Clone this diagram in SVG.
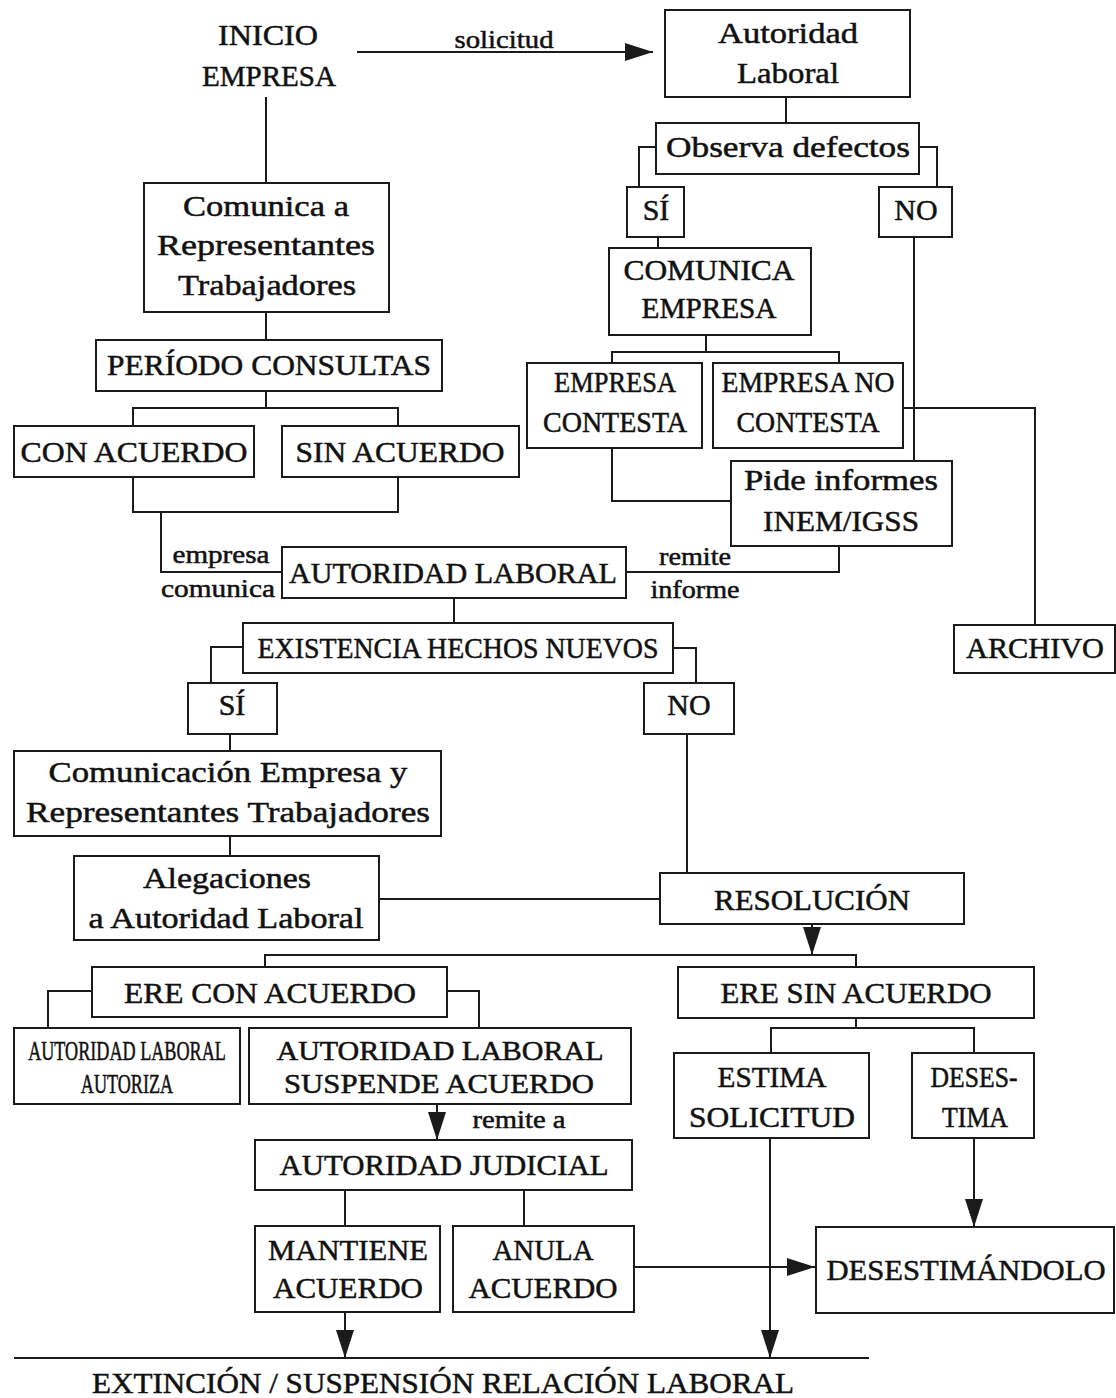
<svg xmlns="http://www.w3.org/2000/svg" width="1116" height="1398" viewBox="0 0 1116 1398">
<style>
.box{fill:#fff;stroke:#1b1b1b;stroke-width:2}
.ln{fill:none;stroke:#1b1b1b;stroke-width:2}
.ar{fill:none;stroke:#1b1b1b;stroke-width:2;marker-end:url(#ah)}
text{font-family:"Liberation Serif","Times New Roman",serif;font-size:30px;fill:#111;stroke:#111;stroke-width:0.5;text-anchor:middle}
.s{font-size:25px}
.m{font-size:27px}
</style>
<defs>
<marker id="ah" markerUnits="userSpaceOnUse" markerWidth="28" markerHeight="18" refX="28" refY="9" orient="auto"><path d="M0,0 L28,9 L0,18 z" fill="#1b1b1b"/></marker>
</defs>
<rect width="1116" height="1398" fill="#fff"/>
<g id="connectors">
<path class="ar" d="M357,52 H653"/>
<path class="ln" d="M266,97 V183"/>
<path class="ln" d="M266,312 V340"/>
<path class="ln" d="M266,391 V408 M133,426 V408 H398 V426"/>
<path class="ln" d="M133,477 V512 H398 V477"/>
<path class="ln" d="M161,512 V572 H282"/>
<path class="ln" d="M786,97 V123"/>
<path class="ln" d="M656,147 H639 V187 M919,147 H937 V187"/>
<path class="ln" d="M658,237 V248"/>
<path class="ln" d="M914,237 V461"/>
<path class="ln" d="M706,335 V352 M612,363 V352 H839 V363"/>
<path class="ln" d="M903,408 H1035 V625"/>
<path class="ln" d="M612,448 V501 H731"/>
<path class="ln" d="M839,546 V572 H626"/>
<path class="ln" d="M454,598 V623"/>
<path class="ln" d="M243,647 H211 V683 M673,648 H696 V683"/>
<path class="ln" d="M230,734 V751"/>
<path class="ln" d="M230,836 V856"/>
<path class="ln" d="M379,899 H660"/>
<path class="ln" d="M687,734 V873"/>
<path class="ar" d="M812,924 V955"/>
<path class="ln" d="M265,967 V955 H856 V967"/>
<path class="ln" d="M92,991 H48 V1028 M447,991 H479 V1028"/>
<path class="ar" d="M437,1104 V1140"/>
<path class="ln" d="M345,1190 V1226 M524,1190 V1226"/>
<path class="ar" d="M345,1312 V1358"/>
<path class="ln" d="M856,1018 V1028 M771,1053 V1028 H974 V1053"/>
<path class="ar" d="M770,1138 V1358"/>
<path class="ar" d="M974,1138 V1227"/>
<path class="ar" d="M634,1267 H815"/>
<path class="ln" d="M14,1358 H869"/>
<text class="s" x="504" y="48" textLength="99" lengthAdjust="spacingAndGlyphs">solicitud</text>
<text class="s" x="221" y="563" textLength="97" lengthAdjust="spacingAndGlyphs">empresa</text>
<text class="s" x="218" y="597" textLength="114" lengthAdjust="spacingAndGlyphs">comunica</text>
<text class="s" x="695" y="565" textLength="72" lengthAdjust="spacingAndGlyphs">remite</text>
<text class="s" x="695" y="598" textLength="89" lengthAdjust="spacingAndGlyphs">informe</text>
<text class="s" x="519" y="1128" textLength="93" lengthAdjust="spacingAndGlyphs">remite a</text>
</g>
<g id="inicio">
<text x="268" y="45" textLength="100" lengthAdjust="spacingAndGlyphs">INICIO</text>
<text x="269" y="86" textLength="134" lengthAdjust="spacingAndGlyphs">EMPRESA</text>
</g>
<g id="autoridad-laboral-1">
<rect class="box" x="665" y="10" width="245" height="87"/>
<text x="788" y="43" textLength="140" lengthAdjust="spacingAndGlyphs">Autoridad</text>
<text x="788" y="83" textLength="102" lengthAdjust="spacingAndGlyphs">Laboral</text>
</g>
<g id="observa-defectos">
<rect class="box" x="656" y="123" width="263" height="51"/>
<text x="788" y="157" textLength="244" lengthAdjust="spacingAndGlyphs">Observa defectos</text>
</g>
<g id="si-1">
<rect class="box" x="627" y="187" width="57" height="50"/>
<text x="656" y="220">SÍ</text>
</g>
<g id="no-1">
<rect class="box" x="879" y="187" width="73" height="50"/>
<text x="916" y="220">NO</text>
</g>
<g id="comunica-empresa">
<rect class="box" x="609" y="248" width="202" height="87"/>
<text x="709" y="280" textLength="171" lengthAdjust="spacingAndGlyphs">COMUNICA</text>
<text x="709" y="318" textLength="135" lengthAdjust="spacingAndGlyphs">EMPRESA</text>
</g>
<g id="empresa-contesta">
<rect class="box" x="527" y="363" width="175" height="85"/>
<text x="615" y="392" textLength="122" lengthAdjust="spacingAndGlyphs">EMPRESA</text>
<text x="615" y="432" textLength="144" lengthAdjust="spacingAndGlyphs">CONTESTA</text>
</g>
<g id="empresa-no-contesta">
<rect class="box" x="713" y="363" width="190" height="85"/>
<text x="808" y="392" textLength="173" lengthAdjust="spacingAndGlyphs">EMPRESA NO</text>
<text x="808" y="432" textLength="143" lengthAdjust="spacingAndGlyphs">CONTESTA</text>
</g>
<g id="pide-informes">
<rect class="box" x="731" y="461" width="221" height="85"/>
<text x="841" y="490" textLength="194" lengthAdjust="spacingAndGlyphs">Pide informes</text>
<text x="841" y="531" textLength="156" lengthAdjust="spacingAndGlyphs">INEM/IGSS</text>
</g>
<g id="archivo">
<rect class="box" x="954" y="625" width="161" height="48"/>
<text x="1035" y="658" textLength="138" lengthAdjust="spacingAndGlyphs">ARCHIVO</text>
</g>
<g id="comunica-representantes">
<rect class="box" x="144" y="183" width="245" height="129"/>
<text x="266" y="216" textLength="166" lengthAdjust="spacingAndGlyphs">Comunica a</text>
<text x="266" y="255" textLength="218" lengthAdjust="spacingAndGlyphs">Representantes</text>
<text x="267" y="295" textLength="178" lengthAdjust="spacingAndGlyphs">Trabajadores</text>
</g>
<g id="periodo-consultas">
<rect class="box" x="96" y="340" width="346" height="51"/>
<text x="269" y="375" textLength="324" lengthAdjust="spacingAndGlyphs">PERÍODO CONSULTAS</text>
</g>
<g id="con-acuerdo">
<rect class="box" x="14" y="426" width="240" height="51"/>
<text x="134" y="462" textLength="227" lengthAdjust="spacingAndGlyphs">CON ACUERDO</text>
</g>
<g id="sin-acuerdo">
<rect class="box" x="282" y="426" width="237" height="51"/>
<text x="400" y="462" textLength="209" lengthAdjust="spacingAndGlyphs">SIN ACUERDO</text>
</g>
<g id="autoridad-laboral-2">
<rect class="box" x="282" y="547" width="344" height="51"/>
<text x="453" y="583" textLength="328" lengthAdjust="spacingAndGlyphs">AUTORIDAD LABORAL</text>
</g>
<g id="existencia-hechos-nuevos">
<rect class="box" x="243" y="623" width="430" height="50"/>
<text x="458" y="658" textLength="401" lengthAdjust="spacingAndGlyphs">EXISTENCIA HECHOS NUEVOS</text>
</g>
<g id="si-2">
<rect class="box" x="188" y="683" width="89" height="51"/>
<text x="232" y="715">SÍ</text>
</g>
<g id="no-2">
<rect class="box" x="644" y="683" width="90" height="51"/>
<text x="689" y="715">NO</text>
</g>
<g id="comunicacion">
<rect class="box" x="14" y="751" width="427" height="85"/>
<text x="228" y="782" textLength="359" lengthAdjust="spacingAndGlyphs">Comunicación Empresa y</text>
<text x="228" y="822" textLength="404" lengthAdjust="spacingAndGlyphs">Representantes Trabajadores</text>
</g>
<g id="alegaciones">
<rect class="box" x="74" y="856" width="305" height="84"/>
<text x="227" y="888" textLength="168" lengthAdjust="spacingAndGlyphs">Alegaciones</text>
<text x="226" y="928" textLength="275" lengthAdjust="spacingAndGlyphs">a Autoridad Laboral</text>
</g>
<g id="resolucion">
<rect class="box" x="660" y="873" width="304" height="51"/>
<text x="812" y="910" textLength="196" lengthAdjust="spacingAndGlyphs">RESOLUCIÓN</text>
</g>
<g id="ere-con-acuerdo">
<rect class="box" x="92" y="967" width="355" height="50"/>
<text x="270" y="1003" textLength="292" lengthAdjust="spacingAndGlyphs">ERE CON ACUERDO</text>
</g>
<g id="ere-sin-acuerdo">
<rect class="box" x="678" y="967" width="356" height="51"/>
<text x="856" y="1003" textLength="271" lengthAdjust="spacingAndGlyphs">ERE SIN ACUERDO</text>
</g>
<g id="autoridad-autoriza">
<rect class="box" x="14" y="1028" width="226" height="76"/>
<g transform="translate(127,0) scale(0.672,1)">
<text class="m" x="0" y="1060">AUTORIDAD LABORAL</text>
<text class="m" x="0" y="1093">AUTORIZA</text>
</g>
</g>
<g id="autoridad-suspende">
<rect class="box" x="249" y="1028" width="382" height="76"/>
<text class="m" x="440" y="1060" textLength="327" lengthAdjust="spacingAndGlyphs">AUTORIDAD LABORAL</text>
<text class="m" x="439" y="1093" textLength="310" lengthAdjust="spacingAndGlyphs">SUSPENDE ACUERDO</text>
</g>
<g id="estima-solicitud">
<rect class="box" x="674" y="1053" width="195" height="85"/>
<text x="772" y="1087" textLength="109" lengthAdjust="spacingAndGlyphs">ESTIMA</text>
<text x="772" y="1127" textLength="166" lengthAdjust="spacingAndGlyphs">SOLICITUD</text>
</g>
<g id="desestima">
<rect class="box" x="912" y="1053" width="122" height="85"/>
<text x="974" y="1087" textLength="87" lengthAdjust="spacingAndGlyphs">DESES-</text>
<text x="975" y="1127" textLength="66" lengthAdjust="spacingAndGlyphs">TIMA</text>
</g>
<g id="autoridad-judicial">
<rect class="box" x="255" y="1140" width="377" height="50"/>
<text x="444" y="1175" textLength="329" lengthAdjust="spacingAndGlyphs">AUTORIDAD JUDICIAL</text>
</g>
<g id="mantiene-acuerdo">
<rect class="box" x="255" y="1226" width="185" height="86"/>
<text x="348" y="1260" textLength="160" lengthAdjust="spacingAndGlyphs">MANTIENE</text>
<text x="348" y="1298" textLength="150" lengthAdjust="spacingAndGlyphs">ACUERDO</text>
</g>
<g id="anula-acuerdo">
<rect class="box" x="453" y="1226" width="181" height="86"/>
<text x="543" y="1260" textLength="101" lengthAdjust="spacingAndGlyphs">ANULA</text>
<text x="543" y="1298" textLength="149" lengthAdjust="spacingAndGlyphs">ACUERDO</text>
</g>
<g id="desestimandolo">
<rect class="box" x="816" y="1227" width="298" height="86"/>
<text x="966" y="1280" textLength="279" lengthAdjust="spacingAndGlyphs">DESESTIMÁNDOLO</text>
</g>
<g id="extincion">
<text x="443" y="1393" textLength="702" lengthAdjust="spacingAndGlyphs">EXTINCIÓN / SUSPENSIÓN RELACIÓN LABORAL</text>
</g>
</svg>
